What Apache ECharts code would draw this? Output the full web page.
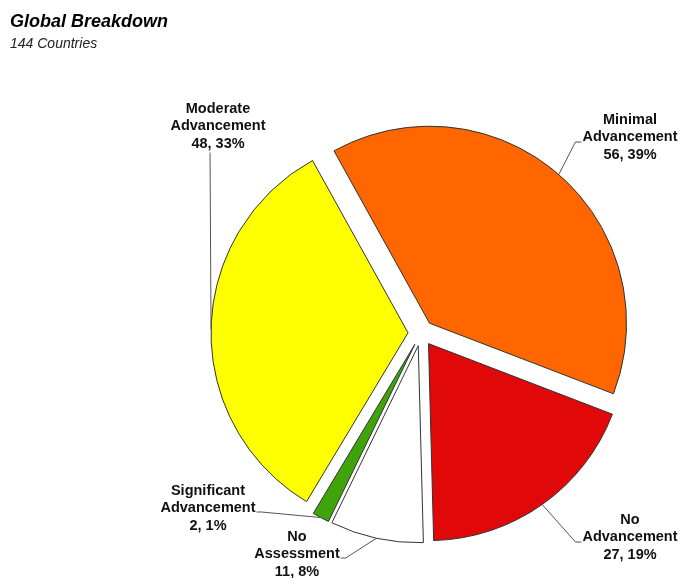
<!DOCTYPE html>
<html>
<head>
<meta charset="utf-8">
<script src="https://cdn.jsdelivr.net/npm/echarts@6/dist/echarts.min.js"></script>
<style>
html,body{margin:0;padding:0;background:#fff;}
#chart{width:684px;height:578px;}
</style>
</head>
<body>
<div id="chart"></div>
<script>
// ---- data ----
const categories = ['Minimal\nAdvancement', 'No\nAdvancement', 'No\nAssessment', 'Significant\nAdvancement', 'Moderate\nAdvancement'];
const values = [56, 27, 11, 2, 48];
const sliceColors = ['#FF6600', '#E00808', '#FFFFFF', '#3FA30A', '#FFFF00'];
const titleText = 'Global Breakdown';
const subtitleText = '144 Countries';

// ---- layout settings ----
const pieCenter = [421, 333];
const pieRadius = 197;
const explode = 13;
// label text centre x, top y, side of leader, leader y below top
const labelPlacement = [
  { cx: 630, top: 111, side: 'left',  dy: 31 },
  { cx: 630, top: 511, side: 'left',  dy: 31 },
  { cx: 297, top: 528, side: 'right', dy: 30 },
  { cx: 208, top: 482, side: 'right', dy: 30 },
  { cx: 218, top: 100, side: 'bottom', dy: 0 }
];

const chart = echarts.init(document.getElementById('chart'), null, { renderer: 'canvas' });

const sliceData = categories.map((c, i) => ({
  name: c,
  value: values[i],
  selected: true,
  itemStyle: { color: sliceColors[i] }
}));
const labelData = categories.map((c, i) => ({ name: c, value: values[i] }));

const labelFont = {
  fontFamily: 'Liberation Sans',
  fontWeight: 'bold',
  fontSize: 14.5,
  lineHeight: 17.5,
  color: '#111'
};

chart.setOption({
  animation: false,
  backgroundColor: '#fff',
  title: {
    text: titleText,
    subtext: subtitleText,
    left: 5,
    top: 8,
    itemGap: 6,
    textStyle: { fontFamily: 'Liberation Sans', fontStyle: 'italic', fontWeight: 'bold', fontSize: 18, color: '#000' },
    subtextStyle: { fontFamily: 'Liberation Sans', fontStyle: 'italic', fontSize: 14, color: '#222' }
  },
  series: [{
    type: 'pie',
    center: pieCenter,
    radius: pieRadius,
    startAngle: 119,
    clockwise: true,
    selectedMode: 'multiple',
    selectedOffset: explode,
    data: sliceData,
    itemStyle: { borderColor: '#333', borderWidth: 1 },
    select: { itemStyle: { borderColor: '#333', borderWidth: 1 } },
    label: { show: false },
    labelLine: { show: false },
    z: 2
  }, {
    // label carrier: same geometry, invisible sectors
    type: 'pie',
    center: pieCenter,
    radius: pieRadius,
    startAngle: 119,
    clockwise: true,
    silent: true,
    avoidLabelOverlap: false,
    percentPrecision: 0,
    data: labelData,
    itemStyle: { color: 'rgba(0,0,0,0)', borderWidth: 0 },
    label: Object.assign({
      show: true,
      position: 'outside',
      formatter: '{b}\n{c}, {d}%',
      align: 'center'
    }, labelFont),
    labelLine: {
      show: true,
      length: 10,
      length2: 10,
      lineStyle: { color: '#555', width: 1 }
    },
    labelLayout: function (params) {
      const p = labelPlacement[params.dataIndex];
      const w = params.labelRect.width;
      const h = params.labelRect.height;
      const pts = params.labelLinePoints;
      let start = pts ? pts[0].slice() : pieCenter.slice();
      const vx = start[0] - pieCenter[0], vy = start[1] - pieCenter[1];
      const len = Math.sqrt(vx * vx + vy * vy) || 1;
      start = [start[0] + explode * vx / len, start[1] + explode * vy / len];
      let end, elbow;
      if (p.side === 'left') {
        end = [p.cx - w / 2 - 1, p.top + p.dy];
        elbow = [end[0] - 6, end[1]];
      } else if (p.side === 'right') {
        end = [p.cx + w / 2 + 1, p.top + p.dy];
        elbow = [end[0] + 5, end[1]];
      } else {
        end = [start[0] - 1, p.top + h];
        elbow = [start[0] - 1, p.top + h + 1];
      }
      return {
        x: p.cx,
        y: p.top,
        align: 'center',
        verticalAlign: 'top',
        labelLinePoints: [start, elbow, end]
      };
    },
    z: 3
  }]
});
</script>
</body>
</html>
